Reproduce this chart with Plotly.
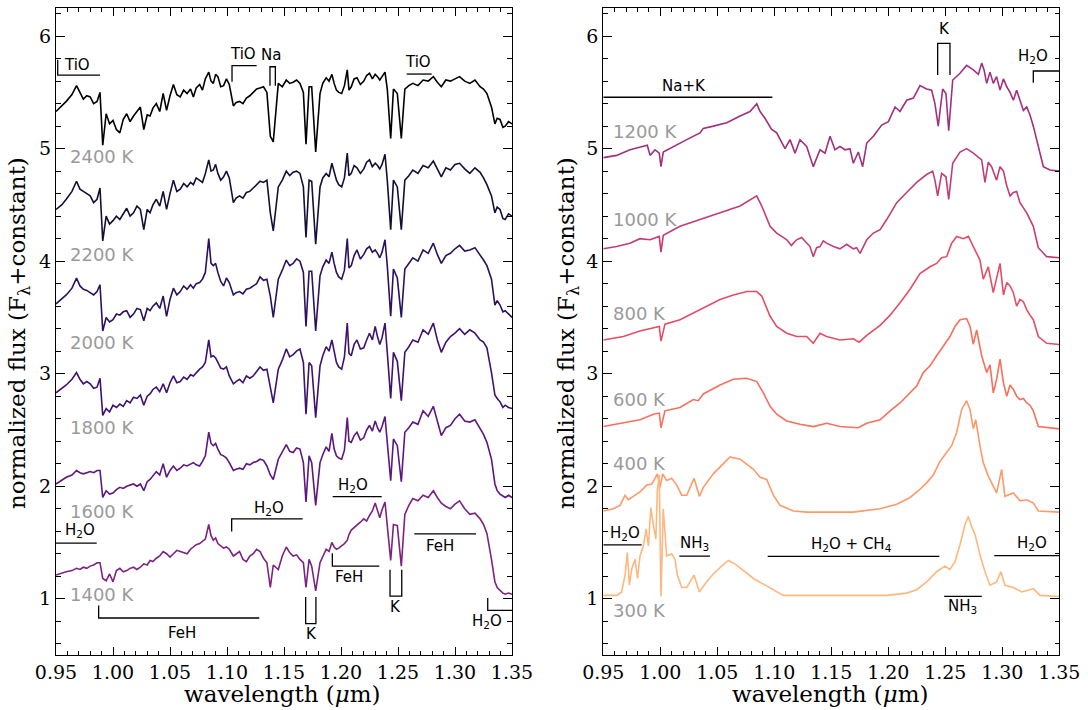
import plotly.graph_objects as go

# ---------------- data ----------------
# left panel: common wavelength grid (micron)
WL = [0.950, 0.955, 0.959, 0.964, 0.968, 0.971, 0.974, 0.977, 0.980, 0.983,
      0.986, 0.9886, 0.991, 0.994, 0.997, 1.000, 1.003, 1.006, 1.009, 1.012,
      1.015, 1.018, 1.021, 1.024, 1.027, 1.030, 1.0325, 1.035, 1.038, 1.041,
      1.044, 1.047, 1.050, 1.053, 1.056, 1.059, 1.062, 1.065, 1.068, 1.0705,
      1.073, 1.076, 1.0785, 1.081, 1.084, 1.086, 1.088, 1.090, 1.092, 1.0945,
      1.097, 1.0995, 1.102, 1.1056, 1.108, 1.111, 1.114, 1.117, 1.120, 1.123,
      1.126, 1.129, 1.132, 1.135, 1.138, 1.1406, 1.145, 1.1485, 1.152, 1.155,
      1.158, 1.161, 1.164, 1.167, 1.1693, 1.172, 1.1743, 1.1778, 1.1816, 1.184,
      1.187, 1.1895, 1.192, 1.194, 1.196, 1.198, 1.2006, 1.203, 1.2055, 1.207,
      1.209, 1.2115, 1.214, 1.217, 1.220, 1.2225, 1.225, 1.2275, 1.230, 1.232,
      1.234, 1.236, 1.2386, 1.2406, 1.2436, 1.246, 1.2494, 1.2529, 1.256, 1.2595,
      1.263, 1.2675, 1.272, 1.2765, 1.281, 1.2845, 1.288, 1.292, 1.296, 1.300,
      1.304, 1.3085, 1.313, 1.3175, 1.322, 1.325, 1.328, 1.332, 1.335, 1.337,
      1.3395, 1.342, 1.344, 1.347, 1.350]

F2400 = [5.33, 5.38, 5.42, 5.48, 5.56, 5.50, 5.44, 5.47, 5.46, 5.40,
         5.42, 5.50, 5.03, 5.31, 5.22, 5.25, 5.17, 5.14, 5.26, 5.31,
         5.24, 5.29, 5.33, 5.37, 5.17, 5.30, 5.29, 5.36, 5.40, 5.33,
         5.49, 5.34, 5.47, 5.57, 5.48, 5.46, 5.52, 5.49, 5.53, 5.46,
         5.54, 5.57, 5.52, 5.62, 5.68, 5.60, 5.58, 5.66, 5.64, 5.55,
         5.56, 5.62, 5.57, 5.38, 5.41, 5.42, 5.40, 5.45, 5.47, 5.50,
         5.53, 5.54, 5.55, 5.50, 5.11, 5.06, 5.58, 5.55, 5.61, 5.58,
         5.59, 5.61, 5.58, 5.50, 5.04, 5.55, 5.55, 4.97, 5.49, 5.58,
         5.63, 5.60, 5.66, 5.58, 5.52, 5.50, 5.49, 5.56, 5.70, 5.52,
         5.55, 5.62, 5.63, 5.57, 5.60, 5.65, 5.67, 5.62, 5.66, 5.64,
         5.61, 5.64, 5.68, 5.53, 5.09, 5.53, 5.49, 5.09, 5.53, 5.56,
         5.58, 5.56, 5.61, 5.60, 5.64, 5.59, 5.55, 5.61, 5.60, 5.62,
         5.64, 5.60, 5.58, 5.61, 5.55, 5.53, 5.49, 5.37, 5.22, 5.27,
         5.26, 5.19, 5.20, 5.24, 5.22]

F2200 = [4.46, 4.50, 4.55, 4.62, 4.71, 4.64, 4.62, 4.60, 4.58, 4.52,
         4.55, 4.65, 4.18, 4.40, 4.33, 4.36, 4.40, 4.37, 4.42, 4.47,
         4.40, 4.43, 4.49, 4.46, 4.28, 4.46, 4.43, 4.50, 4.55, 4.49,
         4.62, 4.46, 4.60, 4.72, 4.62, 4.64, 4.69, 4.66, 4.70, 4.68,
         4.74, 4.72, 4.70, 4.78, 4.90, 4.80, 4.81, 4.86, 4.78, 4.72,
         4.75, 4.80, 4.74, 4.52, 4.56, 4.58, 4.56, 4.61, 4.62, 4.65,
         4.68, 4.71, 4.70, 4.72, 4.43, 4.27, 4.66, 4.72, 4.80, 4.76,
         4.79, 4.80, 4.78, 4.66, 4.21, 4.72, 4.71, 4.15, 4.66, 4.74,
         4.78, 4.75, 4.87, 4.78, 4.72, 4.68, 4.66, 4.74, 4.96, 4.76,
         4.78, 4.85, 4.83, 4.78, 4.82, 4.88, 4.90, 4.84, 4.87, 4.85,
         4.82, 4.86, 4.95, 4.72, 4.28, 4.72, 4.66, 4.28, 4.72, 4.76,
         4.81, 4.78, 4.85, 4.83, 4.89, 4.82, 4.75, 4.83, 4.81, 4.86,
         4.87, 4.82, 4.78, 4.83, 4.79, 4.74, 4.68, 4.58, 4.43, 4.48,
         4.46, 4.38, 4.37, 4.42, 4.40]

F2000 = [3.62, 3.66, 3.70, 3.76, 3.85, 3.78, 3.75, 3.74, 3.72, 3.70,
         3.73, 3.79, 3.38, 3.50, 3.46, 3.48, 3.53, 3.52, 3.55, 3.56,
         3.50, 3.53, 3.58, 3.57, 3.47, 3.58, 3.56, 3.60, 3.63, 3.58,
         3.69, 3.51, 3.66, 3.76, 3.70, 3.73, 3.78, 3.75, 3.79, 3.76,
         3.80, 3.81, 3.84, 3.90, 4.20, 3.98, 3.96, 3.98, 3.90, 3.82,
         3.78, 3.85, 3.81, 3.70, 3.72, 3.73, 3.71, 3.75, 3.76, 3.78,
         3.80, 3.86, 3.83, 3.84, 3.69, 3.50, 3.84, 3.92, 4.01, 3.96,
         3.98, 4.02, 4.00, 3.90, 3.42, 3.91, 3.91, 3.38, 3.87, 3.95,
         4.01, 3.98, 4.08, 3.98, 3.90, 3.86, 3.84, 3.92, 4.20, 3.94,
         3.96, 4.05, 4.10, 4.02, 4.06, 4.11, 4.13, 4.08, 4.10, 4.07,
         4.03, 4.08, 4.19, 3.96, 3.51, 3.93, 3.85, 3.50, 3.93, 3.98,
         4.03, 4.00, 4.10, 4.07, 4.16, 4.06, 3.98, 4.05, 4.07, 4.11,
         4.14, 4.09, 4.10, 4.12, 4.06, 4.01, 3.96, 3.84, 3.61, 3.65,
         3.61, 3.55, 3.56, 3.53, 3.50]

F1800 = [2.83, 2.87, 2.90, 2.95, 3.01, 2.95, 2.91, 2.93, 2.91, 2.87,
         2.88, 2.96, 2.63, 2.69, 2.66, 2.72, 2.70, 2.73, 2.71, 2.76,
         2.74, 2.79, 2.78, 2.81, 2.72, 2.80, 2.82, 2.86, 2.88, 2.84,
         2.91, 2.83, 2.92, 2.98, 2.92, 2.93, 2.97, 2.95, 2.99, 2.98,
         3.01, 3.04, 3.06, 3.10, 3.30, 3.15, 3.16, 3.14, 3.10, 3.05,
         3.04, 3.06, 2.98, 2.91, 2.93, 2.95, 2.92, 2.98, 2.96, 2.98,
         3.02, 3.06, 3.03, 3.04, 2.88, 2.74, 3.04, 3.12, 3.22, 3.15,
         3.17, 3.20, 3.22, 3.10, 2.64, 3.10, 3.07, 2.61, 3.07, 3.16,
         3.24, 3.20, 3.30, 3.18, 3.10, 3.06, 3.04, 3.15, 3.45, 3.18,
         3.16, 3.26, 3.30, 3.22, 3.23, 3.30, 3.36, 3.30, 3.42, 3.33,
         3.26, 3.32, 3.45, 3.19, 2.78, 3.19, 3.11, 2.76, 3.19, 3.24,
         3.30, 3.28, 3.39, 3.35, 3.45, 3.30, 3.19, 3.28, 3.33, 3.36,
         3.40, 3.35, 3.39, 3.36, 3.30, 3.28, 3.23, 3.01, 2.81, 2.78,
         2.75, 2.70, 2.72, 2.70, 2.69]

F1600 = [2.02, 2.05, 2.08, 2.10, 2.14, 2.12, 2.11, 2.12, 2.13, 2.12,
         2.14, 2.14, 1.90, 1.96, 1.93, 1.94, 1.97, 1.99, 1.98, 2.00,
         2.01, 2.02, 2.00, 2.02, 1.96, 2.04, 2.06, 2.09, 2.13, 2.10,
         2.20, 2.08, 2.14, 2.18, 2.14, 2.16, 2.19, 2.18, 2.20, 2.21,
         2.19, 2.18, 2.22, 2.27, 2.48, 2.38, 2.36, 2.38, 2.33, 2.28,
         2.27, 2.25, 2.21, 2.14, 2.15, 2.16, 2.15, 2.20, 2.19, 2.21,
         2.22, 2.24, 2.23, 2.18, 2.10, 2.06, 2.24, 2.30, 2.37, 2.31,
         2.30, 2.34, 2.33, 2.21, 1.86, 2.27, 2.21, 1.83, 2.21, 2.28,
         2.35, 2.31, 2.47, 2.33, 2.27, 2.25, 2.24, 2.32, 2.61, 2.40,
         2.39, 2.45, 2.48, 2.41, 2.43, 2.50, 2.54, 2.49, 2.58, 2.52,
         2.48, 2.53, 2.62, 2.39, 2.05, 2.42, 2.36, 2.04, 2.48, 2.52,
         2.57, 2.55, 2.67, 2.62, 2.71, 2.58, 2.45, 2.52, 2.54, 2.60,
         2.64, 2.58, 2.57, 2.59, 2.51, 2.46, 2.39, 2.24, 2.02, 1.96,
         1.93, 1.91, 1.90, 1.92, 1.90]

F1400 = [1.21, 1.23, 1.24, 1.25, 1.27, 1.26, 1.28, 1.27, 1.29, 1.30,
         1.32, 1.32, 1.18, 1.16, 1.22, 1.15, 1.25, 1.27, 1.24, 1.25,
         1.27, 1.28, 1.26, 1.28, 1.31, 1.30, 1.34, 1.33, 1.36, 1.38,
         1.42, 1.40, 1.37, 1.40, 1.43, 1.42, 1.41, 1.40, 1.44, 1.46,
         1.48, 1.49, 1.51, 1.53, 1.66, 1.56, 1.52, 1.54, 1.49, 1.47,
         1.45, 1.46, 1.44, 1.38, 1.40, 1.42, 1.35, 1.33, 1.38, 1.40,
         1.44, 1.42, 1.36, 1.32, 1.10, 1.30, 1.26, 1.38, 1.46, 1.41,
         1.38, 1.39, 1.35, 1.32, 1.10, 1.35, 1.29, 1.07, 1.32, 1.38,
         1.44, 1.42, 1.50, 1.46, 1.44, 1.45, 1.47, 1.49, 1.52, 1.57,
         1.61, 1.63, 1.65, 1.68, 1.71, 1.69, 1.74, 1.78, 1.85, 1.78,
         1.72, 1.79, 1.86, 1.65, 1.34, 1.66, 1.65, 1.29, 1.75, 1.83,
         1.89, 1.87, 1.92, 1.90, 1.96, 1.90, 1.85, 1.82, 1.80, 1.84,
         1.87, 1.80, 1.75, 1.76, 1.71, 1.66, 1.58, 1.35, 1.15, 1.10,
         1.07, 1.05, 1.04, 1.05, 1.04]

# right panel
W1200 = [0.950, 0.9617, 0.9734, 0.9851, 0.9886, 0.991, 0.9954, 0.9991, 1.0006, 1.0026,
         1.0114, 1.0232, 1.0348, 1.0377, 1.0465, 1.0583, 1.070, 1.0787, 1.0846, 1.0875,
         1.0918, 1.0977, 1.1021, 1.105, 1.1094, 1.1138, 1.1182, 1.1225, 1.1284, 1.1342,
         1.1401, 1.1445, 1.1489, 1.1532, 1.1576, 1.162, 1.1664, 1.1693, 1.1737, 1.1775,
         1.1811, 1.1869, 1.1942, 1.2001, 1.2059, 1.2103, 1.2161, 1.222, 1.2278, 1.2336,
         1.238, 1.2409, 1.2438, 1.2477, 1.2506, 1.253, 1.2565, 1.2629, 1.2687, 1.2746,
         1.2790, 1.2819, 1.2840, 1.2863, 1.2892, 1.2921, 1.2950, 1.298, 1.3010, 1.3039,
         1.3068, 1.3097, 1.3126, 1.3155, 1.3185, 1.3214, 1.3243, 1.3272, 1.3316, 1.336,
         1.3418, 1.350]
F1200 = [4.92, 4.94, 4.99, 5.02, 5.03, 4.94, 4.99, 4.96, 4.84, 4.97,
         5.02, 5.08, 5.14, 5.18, 5.20, 5.23, 5.29, 5.33, 5.40, 5.33,
         5.27, 5.17, 5.14, 5.08, 5.00, 5.08, 4.96, 5.08, 5.02, 4.84,
         4.99, 4.96, 5.11, 4.99, 5.02, 4.99, 5.00, 4.87, 4.97, 4.84,
         5.05, 5.11, 5.21, 5.24, 5.37, 5.33, 5.43, 5.45, 5.56, 5.53,
         5.52, 5.40, 5.20, 5.53, 5.49, 5.16, 5.61, 5.67, 5.74, 5.70,
         5.66, 5.76, 5.70, 5.58, 5.68, 5.58, 5.64, 5.52, 5.62, 5.55,
         5.50, 5.43, 5.52, 5.43, 5.34, 5.37, 5.30, 5.20, 5.02, 4.84,
         4.81, 4.80]

W1000 = [0.950, 0.9617, 0.9734, 0.9822, 0.991, 0.9991, 1.0006, 1.0026, 1.0173, 1.0348,
         1.0524, 1.070, 1.0846, 1.089, 1.0963, 1.1021, 1.1065, 1.1109, 1.115, 1.1196,
         1.124, 1.1284, 1.1313, 1.1342, 1.1371, 1.1401, 1.143, 1.1459, 1.1518, 1.1576,
         1.1635, 1.1693, 1.1722, 1.1752, 1.1811, 1.1869, 1.1928, 1.1986, 1.2074, 1.2161,
         1.2249, 1.2336, 1.2389, 1.2409, 1.2433, 1.2468, 1.2506, 1.253, 1.2565, 1.2629,
         1.2687, 1.2746, 1.2819, 1.2848, 1.2877, 1.2906, 1.2950, 1.298, 1.3010, 1.3039,
         1.3068, 1.3097, 1.3126, 1.3155, 1.3185, 1.3214, 1.3272, 1.3316, 1.3389, 1.350]
F1000 = [4.11, 4.13, 4.16, 4.20, 4.19, 4.22, 4.08, 4.23, 4.31, 4.37,
         4.43, 4.49, 4.58, 4.49, 4.31, 4.25, 4.22, 4.19, 4.14, 4.19,
         4.21, 4.16, 4.13, 4.04, 4.12, 4.13, 4.18, 4.16, 4.13, 4.11,
         4.15, 4.11, 4.12, 4.07, 4.19, 4.25, 4.28, 4.37, 4.52, 4.61,
         4.70, 4.77, 4.80, 4.72, 4.58, 4.78, 4.75, 4.55, 4.87, 4.97,
         5.00, 4.96, 4.90, 4.70, 4.88, 4.84, 4.72, 4.84, 4.80, 4.67,
         4.58, 4.61, 4.62, 4.52, 4.47, 4.43, 4.31, 4.12, 4.04, 4.03]

W800 = [0.950, 0.9676, 0.9822, 0.994, 0.9991, 1.0006, 1.0041, 1.0173, 1.0348, 1.0524,
        1.0641, 1.0758, 1.0846, 1.089, 1.0963, 1.1021, 1.1109, 1.1196, 1.1284, 1.1342,
        1.1401, 1.1459, 1.1576, 1.1693, 1.1745, 1.1811, 1.1928, 1.2016, 1.2103, 1.2191,
        1.2278, 1.2366, 1.2424, 1.2468, 1.2512, 1.2556, 1.260, 1.2658, 1.2702, 1.2746,
        1.2804, 1.2833, 1.2877, 1.2921, 1.2950, 1.298, 1.3010, 1.3039, 1.3068, 1.3097,
        1.3126, 1.3155, 1.3185, 1.3214, 1.3243, 1.3272, 1.3316, 1.3389, 1.350]
F800 = [3.30, 3.33, 3.38, 3.41, 3.42, 3.29, 3.44, 3.48, 3.57, 3.66,
        3.70, 3.73, 3.73, 3.69, 3.51, 3.42, 3.36, 3.33, 3.33, 3.27,
        3.36, 3.33, 3.30, 3.31, 3.28, 3.34, 3.43, 3.52, 3.63, 3.75,
        3.89, 3.95, 3.98, 4.03, 4.04, 4.16, 4.22, 4.20, 4.22, 4.13,
        4.01, 3.84, 3.95, 3.72, 3.86, 3.98, 3.70, 3.81, 3.78, 3.72,
        3.60, 3.66, 3.64, 3.57, 3.52, 3.48, 3.33, 3.27, 3.26]

W600 = [0.950, 0.9676, 0.9822, 0.994, 0.9991, 1.0006, 1.0041, 1.0173, 1.029, 1.0334,
        1.0377, 1.0524, 1.0641, 1.0758, 1.0846, 1.0904, 1.0963, 1.1021, 1.1109, 1.1225,
        1.1342, 1.1459, 1.1576, 1.1737, 1.1811, 1.1928, 1.2016, 1.2103, 1.2191, 1.2249,
        1.2307, 1.2366, 1.2424, 1.2482, 1.2541, 1.2585, 1.2629, 1.2687, 1.2717, 1.2746,
        1.2775, 1.2819, 1.2863, 1.2892, 1.2921, 1.2950, 1.298, 1.3010, 1.3039, 1.3068,
        1.3097, 1.3126, 1.3155, 1.3185, 1.3214, 1.3243, 1.3272, 1.3316, 1.3389, 1.350]
F600 = [2.53, 2.56, 2.59, 2.64, 2.65, 2.52, 2.67, 2.70, 2.77, 2.76,
        2.82, 2.90, 2.95, 2.96, 2.93, 2.83, 2.71, 2.64, 2.58, 2.55,
        2.53, 2.56, 2.53, 2.52, 2.56, 2.59, 2.67, 2.74, 2.83, 2.89,
        3.01, 3.07, 3.16, 3.24, 3.33, 3.42, 3.48, 3.49, 3.42, 3.26,
        3.39, 3.16, 3.01, 3.08, 2.83, 2.95, 3.13, 2.92, 2.80, 2.90,
        2.86, 2.80, 2.77, 2.78, 2.74, 2.72, 2.67, 2.53, 2.52, 2.51]

W400 = [0.950, 0.9588, 0.9647, 0.9691, 0.972, 0.9764, 0.9822, 0.9881, 0.9925, 0.9954,
        0.9974, 0.9998, 1.0021, 1.0056, 1.010, 1.0144, 1.0188, 1.0232, 1.0296, 1.0343,
        1.0377, 1.0465, 1.0553, 1.0612, 1.070, 1.0817, 1.0875, 1.0933, 1.0992, 1.105,
        1.1167, 1.1284, 1.1459, 1.1693, 1.1928, 1.2074, 1.2191, 1.2264, 1.2336, 1.2395,
        1.2453, 1.2556, 1.260, 1.2643, 1.2687, 1.2717, 1.2746, 1.2767, 1.2804, 1.2833,
        1.2877, 1.295, 1.2994, 1.3023, 1.3097, 1.3155, 1.3214, 1.3272, 1.3316, 1.350]
F400 = [1.78, 1.80, 1.83, 1.92, 1.88, 1.91, 1.95, 2.01, 2.02, 2.07,
        2.11, 1.99, 2.11, 2.05, 2.07, 2.01, 1.92, 1.92, 2.07, 1.91,
        1.99, 2.11, 2.20, 2.26, 2.24, 2.15, 2.08, 2.06, 1.92, 1.83,
        1.78, 1.77, 1.77, 1.77, 1.80, 1.84, 1.90, 1.96, 2.03, 2.10,
        2.22, 2.36, 2.48, 2.68, 2.76, 2.68, 2.51, 2.59, 2.36, 2.21,
        2.09, 1.94, 2.15, 1.91, 1.94, 1.87, 1.88, 1.85, 1.78, 1.77]

W300 = [0.950, 0.9617, 0.9661, 0.9691, 0.9711, 0.9729, 0.975, 0.9779, 0.980, 0.9822,
        0.9852, 0.9876, 0.9896, 0.9917, 0.994, 0.9961, 0.9974, 0.9991, 1.0006, 1.0026,
        1.0056, 1.010, 1.0129, 1.015, 1.0188, 1.0232, 1.0296, 1.0343, 1.0392, 1.0465,
        1.0538, 1.0597, 1.0655, 1.0729, 1.0817, 1.0904, 1.0992, 1.1079, 1.1225, 1.1693,
        1.1986, 1.2161, 1.2249, 1.2336, 1.2424, 1.2497, 1.2541, 1.2585, 1.2629, 1.2673,
        1.2702, 1.2731, 1.2761, 1.2804, 1.2848, 1.2892, 1.295, 1.2988, 1.3023, 1.3097,
        1.317, 1.3243, 1.3272, 1.3331, 1.350]
F300 = [1.03, 1.03, 1.06, 1.21, 1.41, 1.12, 1.27, 1.35, 1.18, 1.38,
        1.47, 1.62, 1.47, 1.81, 1.65, 1.53, 1.96, 2.10, 1.02, 1.80,
        1.38, 1.40, 1.35, 1.21, 1.10, 1.10, 1.21, 1.06, 1.13, 1.22,
        1.29, 1.34, 1.31, 1.25, 1.18, 1.13, 1.08, 1.03, 1.03, 1.03,
        1.03, 1.05, 1.08, 1.15, 1.24, 1.29, 1.26, 1.33, 1.48, 1.66,
        1.73, 1.64, 1.57, 1.39, 1.24, 1.12, 1.15, 1.24, 1.12, 1.10,
        1.06, 1.08, 1.09, 1.03, 1.02]

LEFT_LABELS = ["2400 K", "2200 K", "2000 K", "1800 K", "1600 K", "1400 K"]
RIGHT_LABELS = ["1200 K", "1000 K", "800 K", "600 K", "400 K", "300 K"]
LEFT_SERIES = [F2400, F2200, F2000, F1800, F1600, F1400]
RIGHT_SERIES = [(W1200, F1200), (W1000, F1000), (W800, F800),
                (W600, F600), (W400, F400), (W300, F300)]

for _f in LEFT_SERIES:
    assert len(_f) == len(WL)
for _w, _f in RIGHT_SERIES:
    assert len(_w) == len(_f)

# ---------------- styling ----------------
LEFT_COLORS = ["#000004", "#150e37", "#2b115f", "#3d1270", "#5d177f", "#7c2382"]
RIGHT_COLORS = ["#a1307e", "#c43c75", "#e34e65", "#f6705b", "#fd9a6a", "#feb77f"]
LEFT_LABEL_Y = [4.93, 4.06, 3.28, 2.52, 1.774, 1.035]
RIGHT_LABEL_Y = [5.152, 4.369, 3.535, 2.767, 2.206, 0.896]

# bracket annotations: (axis, xs, ys)
BRACKETS = [
    ("1", [0.9515, 0.9515, 0.9886], [5.79, 5.654, 5.654]),
    ("1", [1.1044, 1.1044, 1.126], [5.595, 5.737, 5.737]),
    ("1", [1.1377, 1.1377, 1.1424, 1.1424], [5.56, 5.728, 5.728, 5.56]),
    ("1", [1.2576, 1.2795], [5.663, 5.663]),
    ("1", [0.95, 0.9857], [1.494, 1.494]),
    ("1", [0.9874, 0.9874, 1.1283], [0.94, 0.829, 0.829]),
    ("1", [1.1041, 1.1041, 1.1664], [1.597, 1.709, 1.709]),
    ("1", [1.1927, 1.2357], [1.907, 1.907]),
    ("1", [1.1924, 1.1924, 1.2336], [1.405, 1.29, 1.29]),
    ("1", [1.169, 1.169, 1.178, 1.178], [1.015, 0.778, 0.778, 1.015]),
    ("1", [1.243, 1.243, 1.2533, 1.2533], [1.257, 1.024, 1.024, 1.257]),
    ("1", [1.2643, 1.3184], [1.577, 1.577]),
    ("1", [1.3287, 1.3287, 1.35], [1.006, 0.896, 0.896]),
    ("2", [0.95, 1.0983], [5.457, 5.457]),
    ("2", [1.2433, 1.2433, 1.2541, 1.2541], [5.654, 5.935, 5.935, 5.654]),
    ("2", [1.3272, 1.3272, 1.35], [5.585, 5.69, 5.69]),
    ("2", [0.95, 0.9837], [1.479, 1.479]),
    ("2", [1.0167, 1.0436], [1.379, 1.379]),
    ("2", [1.0942, 1.2448], [1.376, 1.376]),
    ("2", [1.293, 1.35], [1.383, 1.383]),
    ("2", [1.249, 1.282], [1.021, 1.021]),
]
H2O = "H<sub>2</sub>O"
FEATURES = [
    ("1", "TiO", 0.968, 5.74), ("1", "TiO", 1.114, 5.84), ("1", "Na", 1.139, 5.83),
    ("1", "TiO", 1.2678, 5.77), ("1", H2O, 0.971, 1.605), ("1", "FeH", 1.0603, 0.70),
    ("1", H2O, 1.137, 1.798), ("1", H2O, 1.2108, 2.005), ("1", "FeH", 1.2073, 1.192),
    ("1", "K", 1.1743, 0.69), ("1", "K", 1.248, 0.927), ("1", "FeH", 1.2868, 1.467),
    ("1", H2O, 1.3283, 0.80),
    ("2", "Na+K", 1.0208, 5.557), ("2", "K", 1.2489, 6.06), ("2", H2O, 1.3267, 5.817),
    ("2", H2O, 0.969, 1.576), ("2", "NH<sub>3</sub>", 1.0304, 1.488),
    ("2", "H<sub>2</sub>O + CH<sub>4</sub>", 1.168, 1.479), ("2", H2O, 1.3263, 1.488),
    ("2", "NH<sub>3</sub>", 1.265, 0.927),
]

fig = go.Figure()

for name, f, c in zip(LEFT_LABELS, LEFT_SERIES, LEFT_COLORS):
    fig.add_trace(go.Scatter(x=WL, y=f, mode="lines", name=name,
                             line=dict(color=c, width=1.6), xaxis="x", yaxis="y",
                             showlegend=False))
for name, (w, f), c in zip(RIGHT_LABELS, RIGHT_SERIES, RIGHT_COLORS):
    fig.add_trace(go.Scatter(x=w, y=f, mode="lines", name=name,
                             line=dict(color=c, width=1.6), xaxis="x2", yaxis="y2",
                             showlegend=False))
for ax, xs, ys in BRACKETS:
    fig.add_trace(go.Scatter(x=xs, y=ys, mode="lines", line=dict(color="black", width=1.3),
                             xaxis="x" if ax == "1" else "x2",
                             yaxis="y" if ax == "1" else "y2",
                             showlegend=False, hoverinfo="skip"))

ann = []
for ax, t, x, y in FEATURES:
    ann.append(dict(text=t, x=x, y=y, xref="x" if ax == "1" else "x2",
                    yref="y" if ax == "1" else "y2", showarrow=False,
                    xanchor="center", yanchor="middle",
                    font=dict(family="DejaVu Sans", size=15, color="black")))
for t, y in zip(LEFT_LABELS, LEFT_LABEL_Y):
    ann.append(dict(text=t, x=0.9605, y=y, xref="x", yref="y", showarrow=False,
                    xanchor="left", yanchor="middle",
                    font=dict(family="DejaVu Sans", size=18, color="#9a9a9a")))
for t, y in zip(RIGHT_LABELS, RIGHT_LABEL_Y):
    ann.append(dict(text=t, x=0.957, y=y, xref="x2", yref="y2", showarrow=False,
                    xanchor="left", yanchor="middle",
                    font=dict(family="DejaVu Sans", size=18, color="#9a9a9a")))

TITLE_FONT = dict(family="DejaVu Serif", size=23, color="black")
for xc in [282.5 / 1088, 830 / 1088]:
    ann.append(dict(text="wavelength (<i>μ</i>m)", x=xc, y=0.022, xref="paper", yref="paper",
                    showarrow=False, xanchor="center", yanchor="middle", font=TITLE_FONT))
for xc in [19 / 1088, 568 / 1088]:
    ann.append(dict(text="normalized flux (F<sub>λ</sub>+constant)", x=xc, y=0.531,
                    xref="paper", yref="paper", textangle=-90, showarrow=False,
                    xanchor="center", yanchor="middle", font=TITLE_FONT))

TICK_FONT = dict(family="DejaVu Serif", size=19, color="black")
xa = dict(range=[0.95, 1.35], tick0=0.95, dtick=0.05, tickformat=".2f",
          ticks="inside", ticklen=8, tickwidth=1.2, tickcolor="black",
          minor=dict(dtick=0.01, tick0=0.95, ticks="inside", ticklen=4, tickwidth=1, tickcolor="black"),
          showline=True, linecolor="black", linewidth=1.3, mirror="ticks",
          showgrid=False, zeroline=False, tickfont=TICK_FONT, automargin=False)
ya = dict(range=[0.5, 6.25], tick0=0, dtick=1,
          ticks="inside", ticklen=9, tickwidth=1.2, tickcolor="black",
          minor=dict(dtick=0.2, tick0=0, ticks="inside", ticklen=4.5, tickwidth=1, tickcolor="black"),
          showline=True, linecolor="black", linewidth=1.3, mirror="ticks",
          showgrid=False, zeroline=False, tickfont=TICK_FONT, automargin=False)

ydom = [55 / 710, 702 / 710]
fig.update_layout(
    width=1088, height=710,
    margin=dict(l=0, r=0, t=0, b=0, pad=0, autoexpand=False),
    paper_bgcolor="white", plot_bgcolor="white",
    xaxis=dict(xa, domain=[56 / 1088, 512 / 1088], anchor="y"),
    yaxis=dict(ya, domain=ydom, anchor="x"),
    xaxis2=dict(xa, domain=[603.3 / 1088, 1059.3 / 1088], anchor="y2"),
    yaxis2=dict(ya, domain=ydom, anchor="x2"),
    annotations=ann,
    showlegend=False,
    hovermode=False,
)

fig.write_html("out.html", config={"displayModeBar": False},
               post_script="document.body.style.margin='0px';")
